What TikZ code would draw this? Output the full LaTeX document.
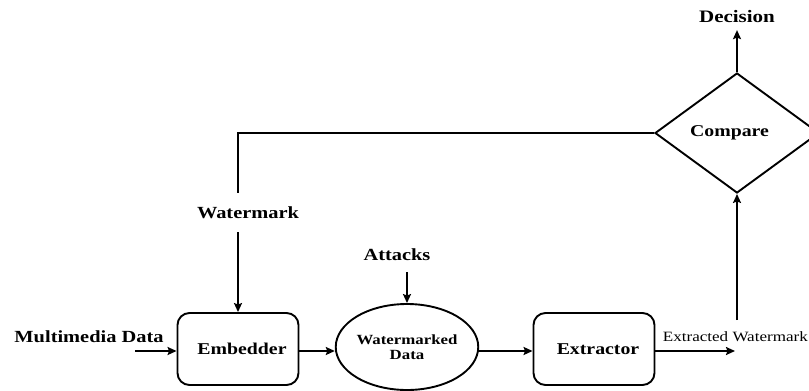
\documentclass[tikz,border=0pt]{standalone}
\usepackage{fontspec}
\setmainfont{Liberation Serif}[FakeStretch=1.2]
\usetikzlibrary{shapes.geometric,arrows.meta}
\begin{document}
\begin{tikzpicture}[x=1pt,y=-1pt,
  line width=1.9pt,
  arr/.style={-{Stealth[length=9pt,width=8pt,inset=1.5pt]}},
  blk/.style={draw,rounded corners=12pt,minimum width=121pt,minimum height=72pt,inner sep=0pt,
    font=\fontsize{16.5}{19}\selectfont\bfseries},
  lbl/.style={inner sep=0pt,font=\fontsize{17}{19}\selectfont\bfseries}]
\useasboundingbox (0,0) rectangle (809,391);
\node[blk] (emb) at (238,349) {\hspace*{8pt}Embedder};
\node[draw,ellipse,minimum width=135pt,minimum height=86pt,inner sep=0pt,align=center,
  font=\fontsize{14}{15.5}\selectfont\bfseries] (wm) at (407,347) {Watermarked\\Data};
\node[blk] (ext) at (594,349) {\raisebox{-3pt}{\hspace*{8pt}Extractor}};
\node[draw,diamond,minimum width=164pt,minimum height=120pt,inner sep=0pt,
  font=\fontsize{16.5}{19}\selectfont\bfseries] (cmp) at (737,133) {\raisebox{-2pt}{Compare\hspace*{15pt}}};
\node[lbl] (md) at (89,337) {Multimedia Data};
\node[lbl] (atk) at (397,255) {Attacks};
\node[lbl] (wmk) at (248,213) {Watermark};
\node[lbl,font=\fontsize{17.5}{19}\selectfont\bfseries] (dec) at (737,17) {Decision};
\node[inner sep=0pt,anchor=west,font=\fontsize{14.2}{16}\selectfont] (exl) at (662,337) {Extracted Watermark};
\coordinate (mds) at (135,351);
\coordinate (wmtop) at (238,193);
\coordinate (wmbot) at (238,232);
\coordinate (atks) at (407,272);
\coordinate (exend) at (735,351);
\coordinate (exup) at (737,320);
\draw[arr] (mds) -- (mds -| emb.west);
\draw[arr] (emb.east |- 0,351) -- (wm.west |- 0,351);
\draw[arr] (wm.east |- 0,351) -- (ext.west |- 0,351);
\draw[arr] (ext.east |- 0,351) -- (exend);
\draw[arr] (exup) -- (cmp.south);
\draw[arr,shorten >=6pt] (cmp.north) -- (dec.south);
\draw (cmp.west) -| (wmtop);
\draw[arr] (wmbot) -- (emb.north);
\draw[arr] (atks) -- (wm.north);
\end{tikzpicture}
\end{document}
